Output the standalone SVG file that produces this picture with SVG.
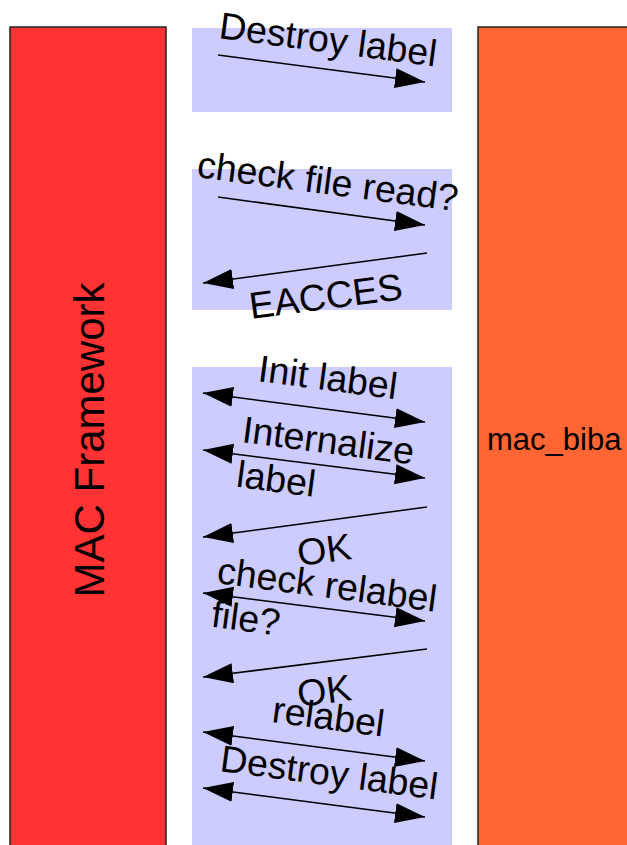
<svg xmlns="http://www.w3.org/2000/svg" width="627" height="845" viewBox="0 0 627 845">
<defs>
<style>
.lane{stroke:#222222;stroke-width:1.5}
.panel{fill:#ccccff}
.msg{stroke:#000;stroke-width:1.5;fill:none}
.t{font-family:"Liberation Sans",Arial,sans-serif;font-size:37.5px;fill:#000}
</style>
<marker id="ah" markerUnits="userSpaceOnUse" markerWidth="32" markerHeight="22" refX="30" refY="10" orient="auto-start-reverse" viewBox="0 0 32 22">
<path d="M0,0 L30,10 L0,20 Z" fill="#000"/>
</marker>
</defs>
<g id="mac-framework">
<rect class="lane" x="10" y="27" width="156" height="830" fill="#ff3333"/>
<text class="t" style="font-size:42px" transform="translate(104,440) rotate(-90)" text-anchor="middle">MAC Framework</text>
</g>
<g id="mac-biba">
<rect class="lane" x="478" y="27" width="160" height="830" fill="#ff6633"/>
<text class="t" style="font-size:31px" x="487" y="450">mac_biba</text>
</g>
<g id="panel-destroy">
<rect class="panel" x="192" y="28" width="260" height="84"/>
</g>
<g id="panel-check-read">
<rect class="panel" x="192" y="169" width="260" height="141"/>
</g>
<g id="panel-relabel">
<rect class="panel" x="192" y="367" width="260" height="490"/>
</g>
<g id="connectors">
<line class="msg" x1="218" y1="55" x2="425" y2="82" marker-end="url(#ah)"/>
<line class="msg" x1="218" y1="197" x2="425" y2="225" marker-end="url(#ah)"/>
<line class="msg" x1="427" y1="253" x2="203" y2="283" marker-end="url(#ah)"/>
<line class="msg" x1="203" y1="393" x2="425" y2="422" marker-start="url(#ah)" marker-end="url(#ah)"/>
<line class="msg" x1="203" y1="450" x2="425" y2="478" marker-start="url(#ah)" marker-end="url(#ah)"/>
<line class="msg" x1="427" y1="507" x2="203" y2="537" marker-end="url(#ah)"/>
<line class="msg" x1="203" y1="593" x2="425" y2="621" marker-start="url(#ah)" marker-end="url(#ah)"/>
<line class="msg" x1="427" y1="649" x2="203" y2="677" marker-end="url(#ah)"/>
<line class="msg" x1="203" y1="732" x2="425" y2="761" marker-start="url(#ah)" marker-end="url(#ah)"/>
<line class="msg" x1="203" y1="788" x2="425" y2="817" marker-start="url(#ah)" marker-end="url(#ah)"/>
<text class="t" transform="translate(218,38) rotate(7.5)">Destroy label</text>
<text class="t" transform="translate(196,177) rotate(7.5)">check file read?</text>
<text class="t" transform="translate(251,319) rotate(-7.5)">EACCES</text>
<text class="t" transform="translate(257,381) rotate(7.5)">Init label</text>
<text class="t" transform="translate(241,442) rotate(7.5)"><tspan x="0" y="0">Internalize</tspan><tspan x="0" y="45">label</tspan></text>
<text class="t" transform="translate(299,566) rotate(-7.5)">OK</text>
<text class="t" transform="translate(216,583) rotate(7.5)"><tspan x="0" y="0">check relabel</tspan><tspan x="0" y="44">file?</tspan></text>
<text class="t" transform="translate(299,707) rotate(-7.5)">OK</text>
<text class="t" transform="translate(271,722) rotate(7.5)">relabel</text>
<text class="t" transform="translate(219,771) rotate(7.5)">Destroy label</text>
</g>
</svg>
